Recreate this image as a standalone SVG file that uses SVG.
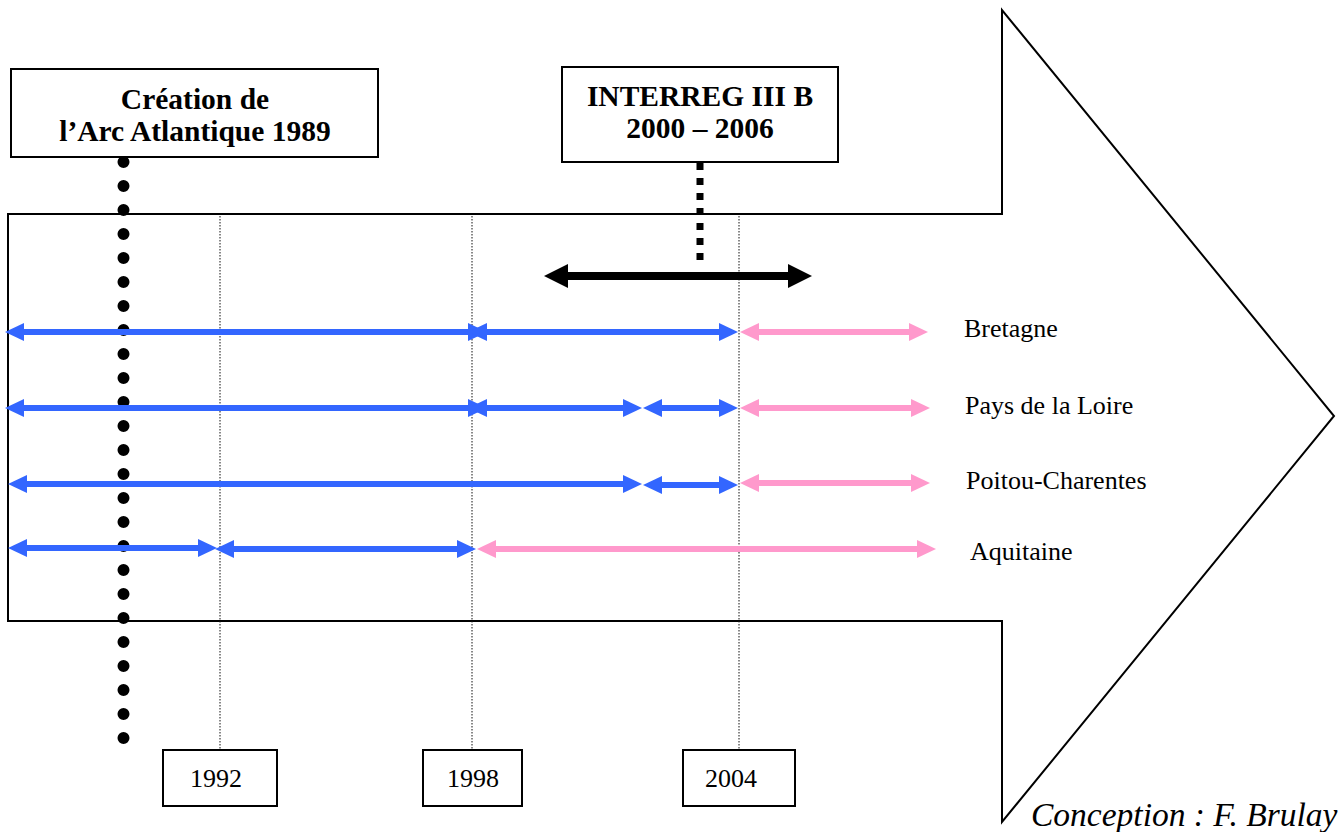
<svg xmlns="http://www.w3.org/2000/svg" width="1343" height="832" viewBox="0 0 1343 832">
<style>
.box{fill:#fff;stroke:#000;stroke-width:2}
.title{font-family:"Liberation Serif","Times New Roman",serif;font-weight:bold;font-size:29.5px;fill:#000;text-anchor:middle}
.year{font-family:"Liberation Serif","Times New Roman",serif;font-size:26px;fill:#000}
.region{font-family:"Liberation Serif","Times New Roman",serif;font-size:26px;fill:#000}
.guide{stroke:#111;stroke-width:1;stroke-dasharray:1.5 1.5;fill:none}
.blue{stroke:#3366FF;stroke-width:6;fill:none;marker-start:url(#hb);marker-end:url(#hb)}
.pink{stroke:#FF99CC;stroke-width:6;fill:none;marker-start:url(#hp);marker-end:url(#hp)}
</style>
<defs>
<marker id="hb" markerUnits="userSpaceOnUse" markerWidth="19" markerHeight="18" refX="1" refY="9" orient="auto-start-reverse" viewBox="0 0 19 18"><path d="M0,0 L19,9 L0,18 z" fill="#3366FF"/></marker>
<marker id="hp" markerUnits="userSpaceOnUse" markerWidth="19" markerHeight="18" refX="1" refY="9" orient="auto-start-reverse" viewBox="0 0 19 18"><path d="M0,0 L19,9 L0,18 z" fill="#FF99CC"/></marker>
<marker id="hk" markerUnits="userSpaceOnUse" markerWidth="24" markerHeight="24" refX="1" refY="12" orient="auto-start-reverse" viewBox="0 0 24 24"><path d="M0,0 L24,12 L0,24 z" fill="#000"/></marker>
</defs>
<rect width="1343" height="832" fill="#fff"/>
<g id="big-arrow">
<polygon points="8,214 1002,214 1002,10 1334,416 1002,822 1002,621 8,621" fill="#fff" stroke="#000" stroke-width="2"/>
</g>
<g id="guides">
<line class="guide" x1="220" y1="216" x2="220" y2="750"/>
<line class="guide" x1="472" y1="216" x2="472" y2="750"/>
<line class="guide" x1="739" y1="216" x2="739" y2="750"/>
</g>
<g id="node-creation">
<rect class="box" x="11" y="69" width="367" height="88"/>
<text class="title" x="195" y="109">Création de</text>
<text class="title" x="195" y="141">l’Arc Atlantique 1989</text>
</g>
<g id="node-interreg">
<rect class="box" x="562" y="67" width="276" height="95"/>
<text class="title" x="700" y="106">INTERREG III B</text>
<text class="title" x="700" y="138">2000 – 2006</text>
</g>
<g id="node-1992">
<rect class="box" x="163" y="750" width="114" height="56"/>
<text class="year" x="190" y="787">1992</text>
</g>
<g id="node-1998">
<rect class="box" x="423" y="750" width="99" height="56"/>
<text class="year" x="447" y="787">1998</text>
</g>
<g id="node-2004">
<rect class="box" x="683" y="750" width="112" height="56"/>
<text class="year" x="705" y="787">2004</text>
</g>
<g id="labels">
<text class="region" x="964" y="337">Bretagne</text>
<text class="region" x="965" y="414">Pays de la Loire</text>
<text class="region" x="966" y="489">Poitou-Charentes</text>
<text class="region" x="970" y="560">Aquitaine</text>
<text x="1031" y="826" font-family="'Liberation Serif','Times New Roman',serif" font-style="italic" font-size="33.5">Conception : F. Brulay</text>
</g>
<g id="connectors">
<line x1="123.5" y1="162" x2="123.5" y2="739" stroke="#000" stroke-width="12" stroke-linecap="round" stroke-dasharray="0 24"/>
<line x1="700" y1="163" x2="700" y2="266" stroke="#000" stroke-width="7" stroke-dasharray="7 8"/>
<line x1="567" y1="276" x2="789" y2="276" stroke="#000" stroke-width="8" marker-start="url(#hk)" marker-end="url(#hk)"/>
<line class="blue" x1="23" y1="332" x2="469" y2="332"/>
<line class="blue" x1="486" y1="332" x2="720" y2="332"/>
<line class="pink" x1="758" y1="332" x2="910" y2="332"/>
<line class="blue" x1="23" y1="408" x2="469" y2="408"/>
<line class="blue" x1="486" y1="408" x2="624" y2="408"/>
<line class="blue" x1="661" y1="408" x2="720" y2="408"/>
<line class="pink" x1="758" y1="408" x2="912" y2="408"/>
<line class="blue" x1="26" y1="484" x2="624" y2="484"/>
<line class="blue" x1="661" y1="485" x2="720" y2="485"/>
<line class="pink" x1="758" y1="483" x2="912" y2="483"/>
<line class="blue" x1="26" y1="548" x2="199" y2="548"/>
<line class="blue" x1="233" y1="549" x2="458" y2="549"/>
<line class="pink" x1="495" y1="549" x2="918" y2="549"/>
</g>
</svg>
